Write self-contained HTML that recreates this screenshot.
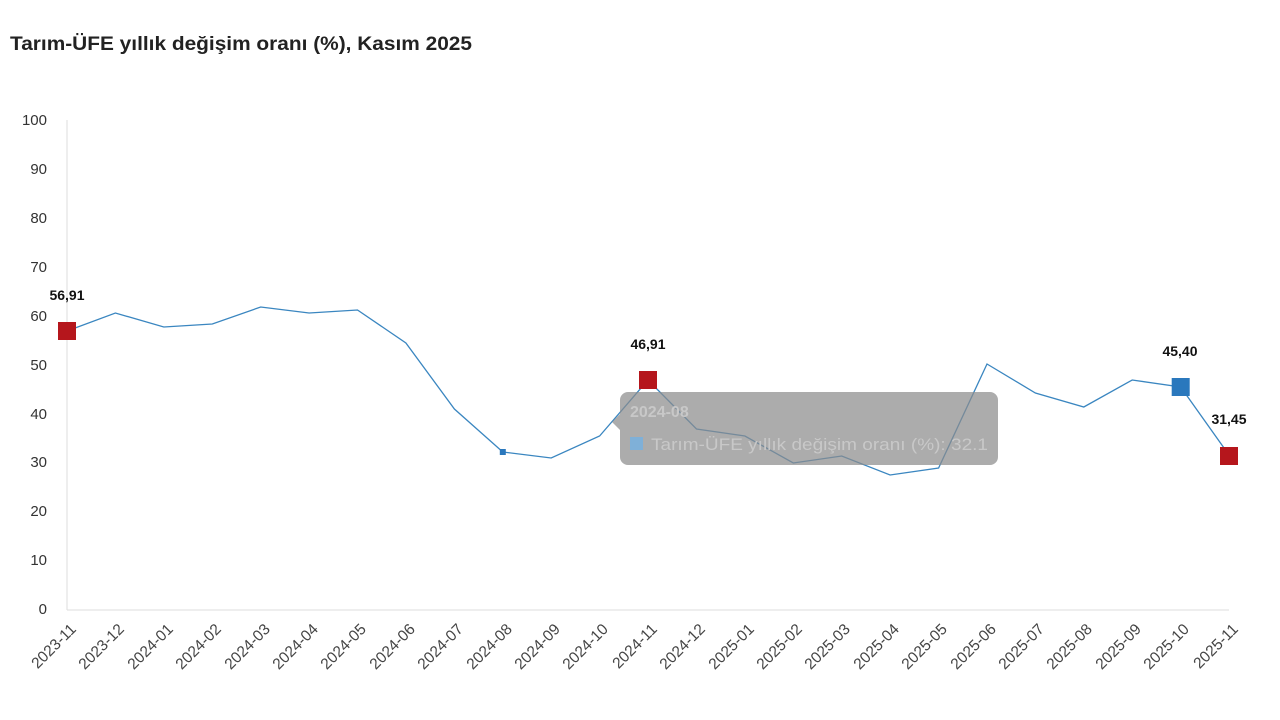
<!DOCTYPE html>
<html><head><meta charset="utf-8"><style>
body{margin:0;background:#fff;}
svg{display:block;font-family:"Liberation Sans",sans-serif;}
</style></head><body>
<svg width="1280" height="720" viewBox="0 0 1280 720">
<text x="10" y="50" font-size="19" font-weight="bold" fill="#222" textLength="462" lengthAdjust="spacingAndGlyphs">Tarım-ÜFE yıllık değişim oranı (%), Kasım 2025</text>
<g font-size="15" fill="#333" text-anchor="end">
<text x="47" y="125">100</text><text x="47" y="174">90</text><text x="47" y="223">80</text><text x="47" y="272">70</text><text x="47" y="321">60</text><text x="47" y="370">50</text><text x="47" y="419">40</text><text x="47" y="467">30</text><text x="47" y="516">20</text><text x="47" y="565">10</text><text x="47" y="614">0</text>
</g>
<line x1="67" y1="120" x2="67" y2="610" stroke="#ddd"/>
<line x1="67" y1="610" x2="1229" y2="610" stroke="#ddd"/>
<g font-size="15.5" fill="#444" text-anchor="end">
<text transform="translate(77,630) rotate(-45)">2023-11</text>
<text transform="translate(125,630) rotate(-45)">2023-12</text>
<text transform="translate(174,630) rotate(-45)">2024-01</text>
<text transform="translate(222,630) rotate(-45)">2024-02</text>
<text transform="translate(271,630) rotate(-45)">2024-03</text>
<text transform="translate(319,630) rotate(-45)">2024-04</text>
<text transform="translate(367,630) rotate(-45)">2024-05</text>
<text transform="translate(416,630) rotate(-45)">2024-06</text>
<text transform="translate(464,630) rotate(-45)">2024-07</text>
<text transform="translate(513,630) rotate(-45)">2024-08</text>
<text transform="translate(561,630) rotate(-45)">2024-09</text>
<text transform="translate(609,630) rotate(-45)">2024-10</text>
<text transform="translate(658,630) rotate(-45)">2024-11</text>
<text transform="translate(706,630) rotate(-45)">2024-12</text>
<text transform="translate(755,630) rotate(-45)">2025-01</text>
<text transform="translate(803,630) rotate(-45)">2025-02</text>
<text transform="translate(851,630) rotate(-45)">2025-03</text>
<text transform="translate(900,630) rotate(-45)">2025-04</text>
<text transform="translate(948,630) rotate(-45)">2025-05</text>
<text transform="translate(997,630) rotate(-45)">2025-06</text>
<text transform="translate(1045,630) rotate(-45)">2025-07</text>
<text transform="translate(1093,630) rotate(-45)">2025-08</text>
<text transform="translate(1142,630) rotate(-45)">2025-09</text>
<text transform="translate(1190,630) rotate(-45)">2025-10</text>
<text transform="translate(1239,630) rotate(-45)">2025-11</text>
</g>
<polyline fill="none" stroke="#3a86c0" stroke-width="1.3" points="67,331 115.4,313 163.8,327 212.3,324 260.7,307 309.1,313 357.5,310 405.9,343 454.4,409 502.8,452 551.2,458 599.6,436 648,380 696.5,429 744.9,436 793.3,463 841.7,456 890.1,475 938.6,468 987,364 1035.4,393 1083.8,407 1132.2,380 1180.7,387 1229,455"/>
<rect x="499.8" y="449" width="6" height="6" fill="#2a78bd"/>
<rect x="58" y="322" width="18" height="18" fill="#b5161c"/>
<rect x="639" y="371" width="18" height="18" fill="#b5161c"/>
<rect x="1171.7" y="378" width="18" height="18" fill="#2a78bd"/>
<rect x="1220" y="447" width="18" height="18" fill="#b5161c"/>
<g font-size="14" font-weight="bold" fill="#111" text-anchor="middle">
<text x="67" y="300">56,91</text>
<text x="648" y="349">46,91</text>
<text x="1180" y="356">45,40</text>
<text x="1229" y="424">31,45</text>
</g>
<path d="M628,392 H990 a8,8 0 0 1 8,8 V457 a8,8 0 0 1 -8,8 H628 a8,8 0 0 1 -8,-8 V430 L612,422 L620,414 V400 a8,8 0 0 1 8,-8 Z" fill="rgba(140,140,140,0.72)"/>
<text x="630" y="417" font-size="16" font-weight="bold" fill="#c8c8c8">2024-08</text>
<rect x="630" y="437" width="13" height="13" fill="#7fb0d8"/>
<text x="651" y="450" font-size="17" fill="#c8c8c8" textLength="337" lengthAdjust="spacingAndGlyphs">Tarım-ÜFE yıllık değişim oranı (%): 32.1</text>
</svg>
</body></html>
